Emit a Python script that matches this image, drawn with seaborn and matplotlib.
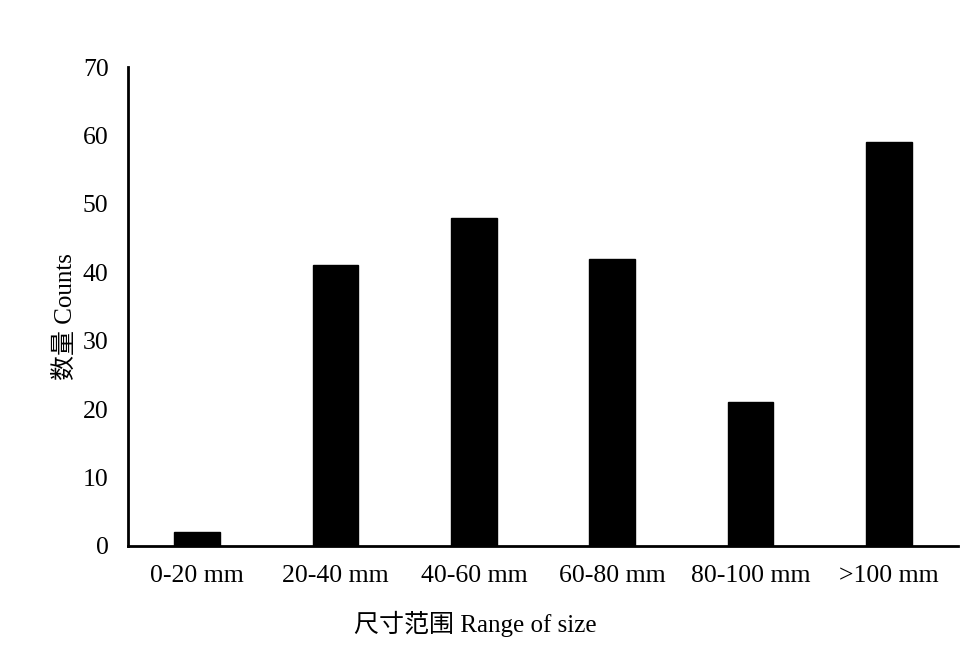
import matplotlib
matplotlib.use("Agg")
import matplotlib.pyplot as plt
import seaborn as sns
import pandas as pd

categories = ["0-20 mm", "20-40 mm", "40-60 mm", "60-80 mm", "80-100 mm", ">100 mm"]
counts = [2, 41, 48, 42, 21, 59]
yticks = [0, 10, 20, 30, 40, 50, 60, 70]

sns.set_style("white")
plt.rcParams['font.family'] = ['Liberation Serif', 'Noto Sans CJK SC']

df = pd.DataFrame({"size": categories, "count": counts})

fig = plt.figure(figsize=(9.77, 6.51), dpi=100)
ax = fig.add_axes([0.131, 0.1613, 0.8496, 0.7357])
sns.barplot(data=df, x="size", y="count", color="black", width=0.33,
            saturation=1, ax=ax, edgecolor="black")
ax.set_xlim(-0.5, 5.5)
ax.set_ylim(0, 70)
ax.set_yticks(yticks)
ax.set_yticklabels([str(v) for v in yticks])
ax.tick_params(axis='both', length=0, labelsize=18.5, colors="black")
ax.tick_params(axis='x', pad=14)
ax.tick_params(axis='y', pad=14)
for s in ["top", "right"]:
    ax.spines[s].set_visible(False)
for s in ["left", "bottom"]:
    ax.spines[s].set_linewidth(2)
    ax.spines[s].set_color("black")
ax.set_xlabel("尺寸范围 Range of size", fontsize=18, color="black")
ax.set_ylabel("数量 Counts", fontsize=18, color="black")
ax.xaxis.set_label_coords(0.419, -0.135)
ax.yaxis.set_label_coords(-0.062, 0.48)
fig.savefig("out.png", dpi=100, facecolor="white")
